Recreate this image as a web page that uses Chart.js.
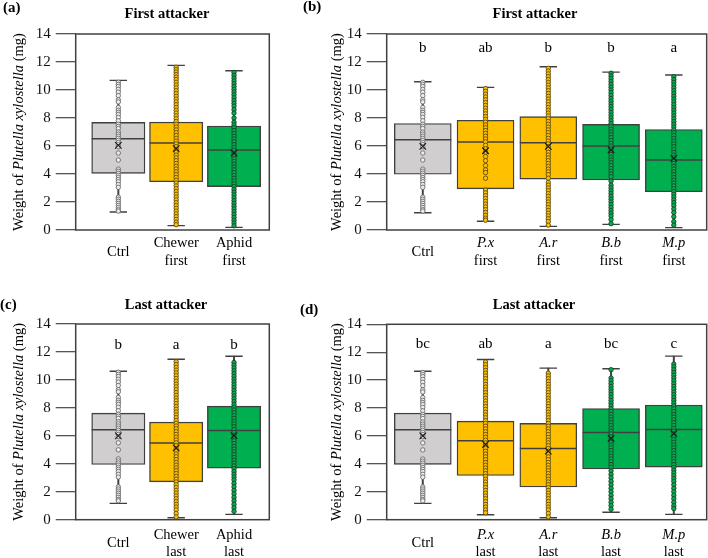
<!DOCTYPE html>
<html>
<head>
<meta charset="utf-8">
<script src="https://cdn.jsdelivr.net/npm/chart.js@4.4.1/dist/chart.umd.min.js"></script>
<style>
  body { margin: 0; background: #fff; overflow: hidden; }
  #wrap { position: relative; width: 708px; height: 558px; }
  #wrap canvas { position: absolute; }
</style>
</head>
<body>
<div id="wrap">
  <canvas id="pa" width="300" height="280" style="left:0;top:0"></canvas>
  <canvas id="pb" width="408" height="280" style="left:300px;top:0"></canvas>
  <canvas id="pc" width="300" height="278" style="left:0;top:280px"></canvas>
  <canvas id="pd" width="408" height="278" style="left:300px;top:280px"></canvas>
</div>
<script>
// ---- data (weight in mg) ----
const yTicks = [0, 2, 4, 6, 8, 10, 12, 14];

const catsA = [['Ctrl'], ['Chewer', 'first'], ['Aphid', 'first']];
const catsB = [['Ctrl'], ['P.x', 'first'], ['A.r', 'first'], ['B.b', 'first'], ['M.p', 'first']];
const catsC = [['Ctrl'], ['Chewer', 'last'], ['Aphid', 'last']];
const catsD = [['Ctrl'], ['P.x', 'last'], ['A.r', 'last'], ['B.b', 'last'], ['M.p', 'last']];

// box stats: min, q1, median, q3, max, mean
const minA = [1.29, 0.31, 0.19];
const q1A = [4.05, 3.45, 3.10];
const medA = [6.52, 6.21, 5.71];
const q3A = [7.69, 7.71, 7.43];
const maxA = [10.69, 11.76, 11.38];
const meanA = [6.05, 5.81, 5.50];

const minB = [1.23, 0.62, 0.26, 0.40, 0.17];
const q1B = [3.98, 2.94, 3.63, 3.58, 2.73];
const medB = [6.45, 6.28, 6.23, 6.00, 5.00];
const q3B = [7.61, 7.84, 8.10, 7.54, 7.18];
const maxB = [10.59, 10.19, 11.66, 11.28, 11.07];
const meanB = [5.97, 5.66, 5.97, 5.73, 5.12];
const lettersB = ['b', 'ab', 'b', 'b', 'a'];

const minC = [1.17, 0.14, 0.38];
const q1C = [3.95, 2.71, 3.69];
const medC = [6.43, 5.48, 6.38];
const q3C = [7.62, 6.98, 8.12];
const maxC = [10.62, 11.48, 11.69];
const meanC = [6.00, 5.14, 6.02];
const lettersC = ['b', 'a', 'b'];

const minD = [1.17, 0.36, 0.14, 0.53, 0.38];
const q1D = [3.96, 3.17, 2.34, 3.63, 3.77];
const medD = [6.44, 5.66, 5.11, 6.25, 6.47];
const q3D = [7.64, 7.06, 6.90, 7.97, 8.21];
const maxD = [10.64, 11.48, 10.86, 10.81, 11.72];
const meanD = [6.01, 5.39, 4.92, 5.82, 6.16];
const lettersD = ['bc', 'ab', 'a', 'bc', 'c'];

// individual larvae
const ctrlPts = [10.55,10.4,10.25,10.05,9.85,9.6,9.3,9.15,8.75,8.55,8.4,8.25,8.05,7.8,7.55,7.4,7.25,7.0,6.85,6.7,6.55,6.4,6.25,6.1,5.95,5.5,5.0,4.35,4.2,4.05,3.9,3.75,3.6,3.45,3.25,3.05,2.35,2.2,2.05,1.9,1.75,1.6,1.45,1.35];
const chewerFirstPts = [11.62,11.45,11.28,11.1,10.92,10.75,10.55,10.35,10.15,9.95,9.75,9.55,9.35,9.15,8.95,8.75,8.55,8.35,8.15,7.95,7.75,7.55,7.35,7.15,6.95,6.75,6.55,6.35,6.15,5.95,5.75,5.55,5.35,5.15,4.95,4.75,4.55,4.35,4.15,3.95,3.75,3.55,3.35,3.15,2.95,2.75,2.55,2.35,2.15,1.95,1.75,1.55,1.35,1.15,0.95,0.75,0.55,0.38];
const aphidFirstPts = [11.25,11.05,10.85,10.65,10.45,10.25,10.05,9.85,9.65,9.45,9.25,9.05,8.85,8.6,8.35,8.0,7.7,7.5,7.3,7.1,6.9,6.7,6.5,6.3,6.1,5.9,5.7,5.5,5.3,5.1,4.9,4.7,4.5,4.3,4.1,3.9,3.7,3.5,3.3,3.1,2.9,2.7,2.5,2.3,2.1,1.9,1.7,1.5,1.3,1.1,0.9,0.7,0.5,0.3];
const pxFirstPts = [10.1,9.9,9.7,9.5,9.3,9.1,8.9,8.7,8.5,8.3,8.1,7.9,7.7,7.5,7.3,7.1,6.9,6.7,6.5,6.3,6.05,5.8,5.55,5.25,4.95,4.6,4.3,4.1,3.7,2.85,2.65,2.45,2.25,2.05,1.85,1.65,1.45,1.25,1.05,0.85,0.7];
const arFirstPts = [11.55,11.35,11.15,10.95,10.75,10.55,10.35,10.15,9.95,9.75,9.55,9.35,9.15,8.95,8.75,8.55,8.35,8.15,7.95,7.75,7.55,7.35,7.15,6.95,6.75,6.55,6.35,6.15,5.95,5.75,5.55,5.35,5.15,4.95,4.75,4.55,4.35,4.15,3.95,3.7,3.4,3.2,3.0,2.8,2.6,2.4,2.2,2.0,1.8,1.6,1.4,1.2,1.0,0.8,0.6,0.35];
const bbFirstPts = [11.2,11.0,10.8,10.6,10.4,10.2,10.0,9.8,9.6,9.4,9.2,9.0,8.8,8.6,8.4,8.2,8.0,7.8,7.6,7.4,7.2,7.0,6.8,6.6,6.4,6.2,6.0,5.8,5.6,5.4,5.2,5.0,4.8,4.6,4.4,4.2,4.0,3.8,3.5,3.2,3.0,2.8,2.6,2.4,2.2,2.0,1.8,1.6,1.4,1.2,1.0,0.75,0.45];
const mpFirstPts = [10.95,10.75,10.55,10.35,10.15,9.95,9.75,9.55,9.35,9.15,8.95,8.75,8.55,8.35,8.15,7.95,7.75,7.55,7.35,7.15,6.95,6.75,6.55,6.35,6.15,5.95,5.75,5.55,5.35,5.15,4.95,4.75,4.55,4.35,4.15,3.95,3.75,3.55,3.35,3.15,2.95,2.75,2.55,2.35,2.15,1.95,1.75,1.5,1.25,0.95,0.6,0.35];
const chewerLastPts = [11.3,11.1,10.9,10.7,10.5,10.3,10.1,9.9,9.7,9.5,9.3,9.1,8.9,8.7,8.5,8.3,8.1,7.9,7.7,7.5,7.3,7.1,6.9,6.7,6.5,6.3,6.1,5.9,5.7,5.5,5.3,5.1,4.9,4.7,4.5,4.3,4.1,3.9,3.7,3.5,3.3,3.1,2.9,2.7,2.5,2.3,2.1,1.9,1.7,1.5,1.3,1.1,0.9,0.7,0.45,0.2];
const aphidLastPts = [11.25,11.05,10.85,10.65,10.45,10.25,10.05,9.85,9.65,9.45,9.25,9.05,8.85,8.65,8.45,8.25,8.05,7.85,7.65,7.45,7.25,7.05,6.85,6.65,6.45,6.25,6.05,5.85,5.65,5.45,5.25,5.05,4.85,4.65,4.45,4.25,4.05,3.85,3.65,3.45,3.25,3.05,2.85,2.6,2.35,2.1,1.85,1.6,1.35,1.1,0.85,0.6];
const pxLastPts = [11.3,11.1,10.9,10.7,10.5,10.3,10.1,9.9,9.7,9.5,9.3,9.1,8.9,8.7,8.5,8.3,8.1,7.9,7.7,7.5,7.3,7.1,6.9,6.7,6.5,6.3,6.1,5.9,5.7,5.5,5.3,5.1,4.9,4.7,4.5,4.3,4.1,3.9,3.7,3.5,3.3,3.1,2.9,2.7,2.5,2.3,2.1,1.9,1.7,1.5,1.3,1.1,0.9,0.7,0.5];
const arLastPts = [10.5,10.3,10.1,9.9,9.7,9.5,9.3,9.1,8.9,8.7,8.5,8.3,8.1,7.9,7.7,7.5,7.3,7.1,6.9,6.7,6.5,6.3,6.1,5.9,5.7,5.5,5.3,5.1,4.9,4.7,4.5,4.3,4.1,3.9,3.7,3.5,3.3,3.1,2.9,2.7,2.5,2.3,2.1,1.9,1.7,1.5,1.3,1.1,0.9,0.7,0.45,0.2];
const bbLastPts = [10.75,10.15,9.95,9.75,9.55,9.35,9.15,8.95,8.75,8.55,8.35,8.15,7.95,7.75,7.55,7.35,7.15,6.95,6.75,6.55,6.35,6.15,5.95,5.75,5.55,5.35,5.15,4.95,4.75,4.55,4.35,4.15,3.95,3.75,3.5,3.25,3.0,2.75,2.5,2.25,2.0,1.75,1.5,1.25,1.0,0.75];
const mpLastPts = [11.15,10.95,10.75,10.55,10.35,10.15,9.95,9.75,9.55,9.35,9.15,8.95,8.75,8.55,8.35,8.15,7.95,7.75,7.55,7.35,7.15,6.95,6.75,6.55,6.35,6.15,5.95,5.75,5.55,5.35,5.15,4.95,4.75,4.55,4.35,4.15,3.95,3.75,3.55,3.35,3.15,2.95,2.75,2.5,2.25,2.0,1.75,1.5,1.25,1.0,0.8];

// ---- styling ----
const SERIF = '"Liberation Serif", "DejaVu Serif", serif';
const INK = '#404040';
const GRAY = '#D0CECE', GOLD = '#FFC000', GREEN = '#00B050';
const dotStyle = {
  gray:  { fill: '#EEEEEE', edge: '#6a6a6a' },
  gold:  { fill: GOLD, edge: '#5b4a14' },
  green: { fill: GREEN, edge: '#1f3d29' }
};
const fillOf = { gray: GRAY, gold: GOLD, green: GREEN };

// draws frame, titles, axis text and letters
const decor = {
  id: 'decor',
  afterDraw(chart, args, o) {
    const { ctx, chartArea: a, scales } = chart;
    ctx.save();
    ctx.strokeStyle = INK;
    ctx.lineWidth = 1.5;
    ctx.strokeRect(a.left, a.top, a.right - a.left, a.bottom - a.top);

    ctx.fillStyle = '#000';
    ctx.textBaseline = 'middle';
    // panel tag and title
    ctx.font = 'bold 15px ' + SERIF;
    ctx.textAlign = 'left';
    ctx.fillText(o.tag, o.tagX, o.tagY);
    ctx.font = 'bold 14.5px ' + SERIF;
    ctx.textAlign = 'center';
    ctx.fillText(o.title, o.titleX, o.titleY);

    // y title with italic species name
    const parts = [['Weight of ', ''], ['Plutella xylostella', 'italic '], [' (mg)', '']];
    ctx.save();
    ctx.translate(o.yTitleX, (a.top + a.bottom) / 2);
    ctx.rotate(-Math.PI / 2);
    let total = 0;
    parts.forEach(p => { ctx.font = p[1] + '14.5px ' + SERIF; total += ctx.measureText(p[0]).width; });
    let x = -total / 2;
    ctx.textAlign = 'left';
    parts.forEach(p => {
      ctx.font = p[1] + '14.5px ' + SERIF;
      ctx.fillText(p[0], x, 0);
      x += ctx.measureText(p[0]).width;
    });
    ctx.restore();

    // category labels
    ctx.textAlign = 'center';
    o.cats.forEach((lines, i) => {
      const cx = scales.x.getPixelForValue(i + 1);
      const ys = lines.length === 1 ? [a.bottom + o.lab1] : [a.bottom + o.lab2a, a.bottom + o.lab2b];
      lines.forEach((t, j) => {
        ctx.font = (/^[A-Z]\.[a-z]$/.test(t) ? 'italic ' : '') + '14.5px ' + SERIF;
        ctx.fillText(t, cx, ys[j]);
      });
    });

    // significance letters
    if (o.letters) {
      ctx.font = '15px ' + SERIF;
      o.letters.forEach((t, i) => {
        ctx.fillText(t, scales.x.getPixelForValue(i + 1), scales.y.getPixelForValue(o.letterY));
      });
    }
    ctx.restore();
  }
};

function boxPanel(id, p) {
  const xs = p.cats.map((c, i) => i + 1);
  const datasets = [
    { // whiskers
      type: 'bar', order: 5, grouped: false, barThickness: 1.3,
      data: xs.map((x, i) => ({ x: x, y: [p.min[i], p.max[i]] })),
      backgroundColor: INK, borderWidth: 0
    },
    { // boxes
      type: 'bar', order: 4, grouped: false, barThickness: p.boxW,
      data: xs.map((x, i) => ({ x: x, y: [p.q1[i], p.q3[i]] })),
      backgroundColor: p.colors.map(c => fillOf[c]),
      borderColor: INK, borderWidth: 1.4, borderSkipped: false
    },
    { // caps
      type: 'scatter', order: 3,
      data: xs.flatMap((x, i) => [{ x: x, y: p.min[i] }, { x: x, y: p.max[i] }]),
      pointStyle: 'line', pointRadius: 8.7, borderColor: INK, borderWidth: 1.4
    },
    { // medians
      type: 'scatter', order: 2,
      data: xs.map((x, i) => ({ x: x, y: p.med[i] })),
      pointStyle: 'line', pointRadius: p.boxW / 2, borderColor: INK, borderWidth: 1.5
    }
  ];
  p.pts.forEach((vals, i) => {
    const s = dotStyle[p.colors[i]];
    datasets.push({
      type: 'scatter', order: 1,
      data: vals.map(v => ({ x: i + 1, y: v })),
      pointRadius: 2.2, pointBackgroundColor: s.fill, pointBorderColor: s.edge, pointBorderWidth: 0.9
    });
  });
  datasets.push({ // means
    type: 'scatter', order: 0,
    data: xs.map((x, i) => ({ x: x, y: p.mean[i] })),
    pointStyle: 'crossRot', pointRadius: 4.6, borderColor: '#1a1a1a', borderWidth: 1.1
  });

  new Chart(document.getElementById(id), {
    type: 'bar',
    data: { datasets },
    options: {
      responsive: false,
      animation: false,
      events: [],
      layout: { padding: p.pad, autoPadding: false },
      plugins: { legend: { display: false }, tooltip: { enabled: false }, decor: p.decor },
      scales: {
        x: { type: 'linear', display: false, offset: false, grid: { offset: false }, min: p.xMin, max: p.xMax },
        y: {
          min: 0, max: 14,
          afterBuildTicks: s => { s.ticks = yTicks.map(v => ({ value: v })); },
          afterFit: s => { s.width = 45; },
          ticks: { color: '#111', padding: 5, font: { family: SERIF, size: 15 } },
          grid: { drawOnChartArea: false, tickLength: 20, color: '#555', lineWidth: 1.3 },
          border: { display: false }
        }
      }
    },
    plugins: [decor]
  });
}

boxPanel('pa', {
  cats: catsA, colors: ['gray', 'gold', 'green'],
  min: minA, q1: q1A, med: medA, q3: q3A, max: maxA, mean: meanA,
  pts: [ctrlPts, chewerFirstPts, aphidFirstPts],
  xMin: 0.263, xMax: 3.61, boxW: 53.3,
  pad: { left: 30.7, right: 30.7, top: 34, bottom: 50 },
  decor: { tag: '(a)', tagX: 3, tagY: 8, title: 'First attacker', titleX: 167, titleY: 14,
    yTitleX: 19, cats: catsA, lab1: 21.7, lab2a: 13.3, lab2b: 31 }
});

boxPanel('pb', {
  cats: catsB, colors: ['gray', 'gold', 'gold', 'green', 'green'],
  min: minB, q1: q1B, med: medB, q3: q3B, max: maxB, mean: meanB,
  pts: [ctrlPts, pxFirstPts, arFirstPts, bbFirstPts, mpFirstPts],
  xMin: 0.425, xMax: 5.524, boxW: 57,
  pad: { left: 41.7, right: 1.3, top: 34, bottom: 50 },
  decor: { tag: '(b)', tagX: 3, tagY: 7, title: 'First attacker', titleX: 235, titleY: 14,
    yTitleX: 37, cats: catsB, lab1: 21.7, lab2a: 13.3, lab2b: 31, letters: lettersB, letterY: 13.0 }
});

boxPanel('pc', {
  cats: catsC, colors: ['gray', 'gold', 'green'],
  min: minC, q1: q1C, med: medC, q3: q3C, max: maxC, mean: meanC,
  pts: [ctrlPts, chewerLastPts, aphidLastPts],
  xMin: 0.263, xMax: 3.61, boxW: 53.3,
  pad: { left: 30.7, right: 30.7, top: 44, bottom: 38.3 },
  decor: { tag: '(c)', tagX: 0, tagY: 25, title: 'Last attacker', titleX: 166, titleY: 25,
    yTitleX: 19, cats: catsC, lab1: 23.3, lab2a: 15.3, lab2b: 32.3, letters: lettersC, letterY: 12.5 }
});

boxPanel('pd', {
  cats: catsD, colors: ['gray', 'gold', 'gold', 'green', 'green'],
  min: minD, q1: q1D, med: medD, q3: q3D, max: maxD, mean: meanD,
  pts: [ctrlPts, pxLastPts, arLastPts, bbLastPts, mpLastPts],
  xMin: 0.425, xMax: 5.524, boxW: 57,
  pad: { left: 41.7, right: 1.3, top: 44.3, bottom: 38.3 },
  decor: { tag: '(d)', tagX: 0, tagY: 30, title: 'Last attacker', titleX: 234, titleY: 25,
    yTitleX: 37, cats: catsD, lab1: 23.3, lab2a: 15.3, lab2b: 32.3, letters: lettersD, letterY: 12.55 }
});
</script>
</body>
</html>
